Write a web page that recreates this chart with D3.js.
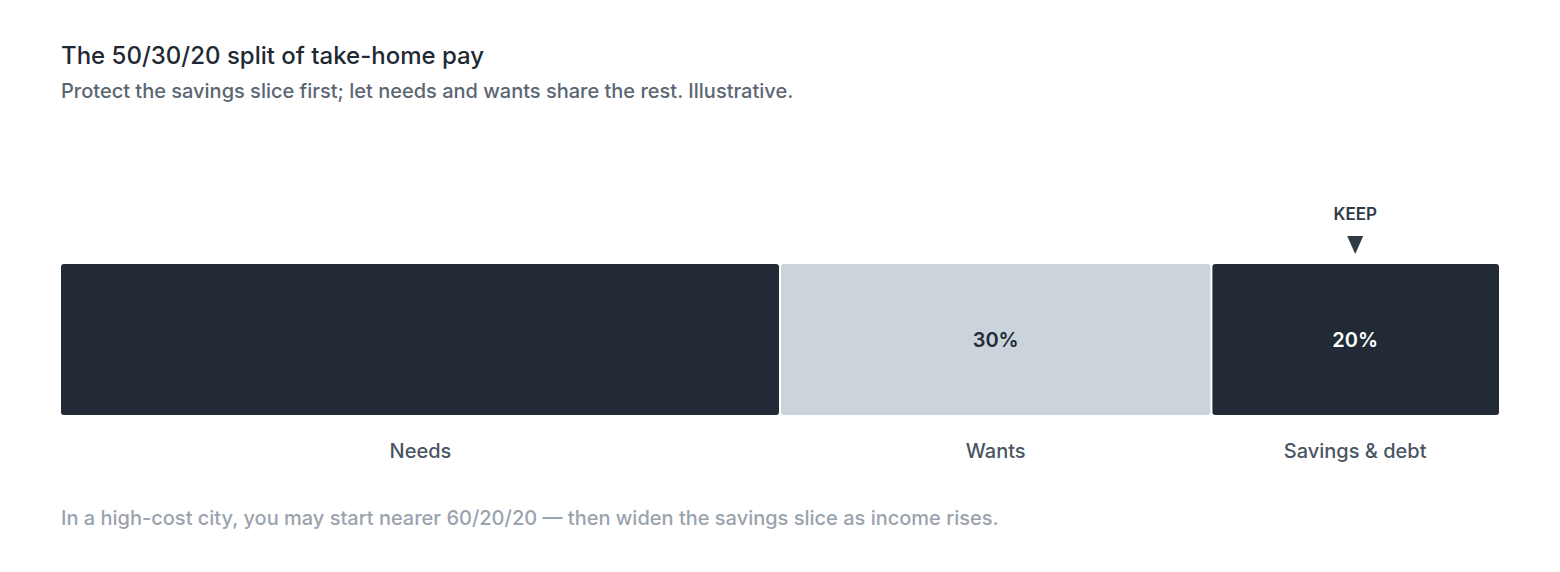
<!DOCTYPE html>
<html><head><meta charset="utf-8">
<script src="https://cdn.jsdelivr.net/npm/d3@7"></script>
<style>body{margin:0;background:#fff;font-family:Inter,"Noto Sans",sans-serif}</style>
</head><body>
<svg id="c" width="1560" height="572"></svg>
<script>
const categories = ["Needs","Wants","Savings & debt"];
const shares = [50,30,20];
const barLabels = ["","30%","20%"];
const fills = ["#212a35","#cbd3db","#212a35"];
const labelColors = ["#fff","#212a35","#fff"];
const keepIndex = 2;

const svg = d3.select("#c");
const x = d3.scaleLinear().domain([0,100]).range([61,1499]);
const starts = d3.cumsum([0,...shares]).slice(0,-1);
const gap = 1;
const y0 = 264, h = 151;

svg.append("text").attr("x",61).attr("y",64).attr("font-size",24).attr("font-weight",500).attr("fill","#1f2933").text("The 50/30/20 split of take-home pay");
svg.append("text").attr("x",61).attr("y",98).attr("font-size",20).attr("font-weight",500).attr("fill","#5b6673").text("Protect the savings slice first; let needs and wants share the rest. Illustrative.");

const g = svg.selectAll("g.seg").data(categories).join("g");
g.append("rect")
 .attr("x",(d,i)=>x(starts[i])+(i>0?gap:0))
 .attr("width",(d,i)=>x(starts[i]+shares[i])-x(starts[i])-(i>0?gap:0)-(i<2?gap:0))
 .attr("y",y0).attr("height",h).attr("rx",3)
 .attr("fill",(d,i)=>fills[i]);
g.append("text")
 .attr("x",(d,i)=>x(starts[i]+shares[i]/2)).attr("y",y0+h/2+7)
 .attr("text-anchor","middle").attr("font-size",20).attr("font-weight",600)
 .attr("fill",(d,i)=>labelColors[i]).text((d,i)=>barLabels[i]);
g.append("text")
 .attr("x",(d,i)=>x(starts[i]+shares[i]/2)).attr("y",458)
 .attr("text-anchor","middle").attr("font-size",20).attr("font-weight",500)
 .attr("fill","#4a5563").text(d=>d);

const kx = x(starts[keepIndex]+shares[keepIndex]/2);
svg.append("text").attr("x",kx).attr("y",220).attr("text-anchor","middle").attr("font-size",17).attr("font-weight",600).attr("fill","#2f3a47").text("KEEP");
svg.append("path").attr("d",`M${kx-8},236 L${kx+8},236 L${kx},254 Z`).attr("fill","#2f3a47");

svg.append("text").attr("x",61).attr("y",525).attr("font-size",20).attr("font-weight",500).attr("fill","#9aa3ad").text("In a high-cost city, you may start nearer 60/20/20 — then widen the savings slice as income rises.");
</script>
</body></html>
